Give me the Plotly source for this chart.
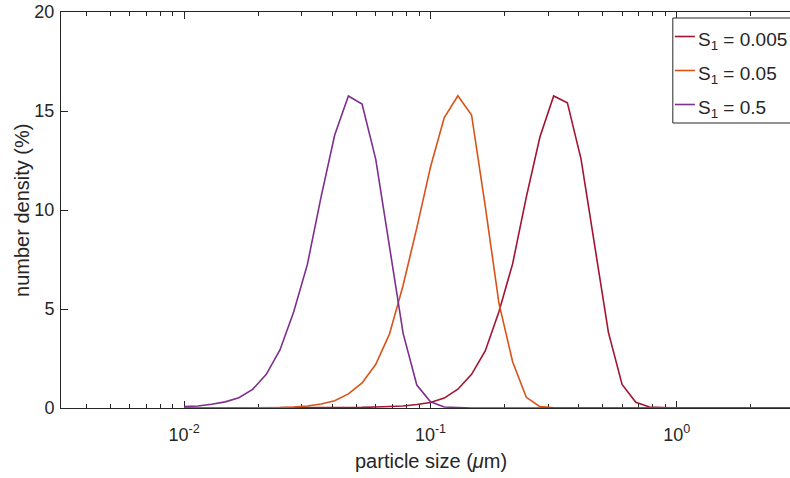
import plotly.graph_objects as go

# sample grid (particle size, um)
particle_size = [
    0.01, 0.011365, 0.012915, 0.014678, 0.016681, 0.018957, 0.021544, 0.024484,
    0.027826, 0.031623, 0.035938, 0.040842, 0.046416, 0.052749, 0.059948, 0.068129,
    0.077426, 0.087992, 0.1, 0.11365, 0.12915, 0.14678, 0.16681, 0.18957,
    0.21544, 0.24484, 0.27826, 0.31623, 0.35938, 0.40842, 0.46416, 0.52749,
    0.59948, 0.68129, 0.77426, 0.87992, 1.0, 1.1365, 1.2915, 1.4678,
    1.6681, 1.8957, 2.1544, 2.4484, 2.7826, 3.1623,
]

density_s0005 = [
    0, 0, 0, 0, 0, 0, 0, 0, 0, 0, 0.01, 0.01, 0.02, 0.03, 0.05, 0.07,
    0.10, 0.18, 0.28, 0.50, 0.95, 1.70, 2.88, 4.86, 7.28, 10.65, 13.70, 15.76,
    15.42, 12.57, 8.15, 3.82, 1.19, 0.29, 0.05, 0.01, 0, 0, 0, 0,
    0, 0, 0, 0, 0, 0,
]

density_s005 = [
    0, 0, 0, 0, 0, 0, 0, 0.02, 0.05, 0.10, 0.20, 0.37, 0.71, 1.27, 2.21, 3.73,
    6.20, 9.10, 12.17, 14.66, 15.77, 14.80, 10.20, 5.30, 2.34, 0.54, 0.07, 0.01,
    0, 0, 0, 0, 0, 0, 0, 0, 0, 0, 0, 0,
    0, 0, 0, 0, 0, 0,
]

density_s05 = [
    0.07, 0.10, 0.19, 0.31, 0.52, 0.94, 1.70, 2.93, 4.85, 7.24, 10.65, 13.79,
    15.76, 15.35, 12.56, 8.15, 3.77, 1.16, 0.31, 0.05, 0.01, 0, 0, 0,
    0, 0, 0, 0, 0, 0, 0, 0, 0, 0, 0, 0, 0, 0, 0, 0,
    0, 0, 0, 0, 0, 0,
]

series_names = ["S<sub>1</sub> = 0.005", "S<sub>1</sub> = 0.05", "S<sub>1</sub> = 0.5"]
series_values = [density_s0005, density_s005, density_s05]
series_colors = ["#A2142F", "#D95319", "#7E2F8E"]

x_tick_vals = [0.01, 0.1, 1]
x_tick_text = ["10<sup>-2</sup>", "10<sup>-1</sup>", "10<sup>0</sup>"]
x_minor_vals = [0.004, 0.005, 0.006, 0.007, 0.008, 0.009,
                0.02, 0.03, 0.04, 0.05, 0.06, 0.07, 0.08, 0.09,
                0.2, 0.3, 0.4, 0.5, 0.6, 0.7, 0.8, 0.9, 2, 3]
y_tick_vals = [0, 5, 10, 15, 20]

FONT = "Liberation Sans, Arial, Helvetica, sans-serif"
INK = "#262626"

# page geometry: figure pinned to the top-left of the page
PL, PT, PR, PB = 61, 12, 799, 408          # plot area in screen pixels
W = PR + 1
H = 478
L = PL
T = PT
B = H - PB
plot_w = PR - PL
plot_h = PB - PT


def px(sx):
    return (sx - PL) / plot_w


def py(sy):
    return (PB - sy) / plot_h


fig = go.Figure()
for name, vals, col in zip(series_names, series_values, series_colors):
    fig.add_trace(go.Scatter(x=particle_size, y=vals, mode="lines", name=name,
                             line=dict(color=col, width=1.6), showlegend=False))

# legend drawn as a boxed key
shapes = [dict(type="rect", xref="paper", yref="paper",
               x0=px(672), x1=px(830), y0=py(123), y1=py(18),
               line=dict(color=INK, width=1), fillcolor="white", layer="above")]
annotations = []
for i, (name, col) in enumerate(zip(series_names, series_colors)):
    ly = 36.5 + 34 * i
    shapes.append(dict(type="line", xref="paper", yref="paper",
                       x0=px(674), x1=px(694), y0=py(ly), y1=py(ly),
                       line=dict(color=col, width=1.6), layer="above"))
    annotations.append(dict(text=name, xref="paper", yref="paper",
                            x=px(695), y=py(ly + 4), xanchor="left", yanchor="middle",
                            showarrow=False,
                            font=dict(size=19, color=INK, family=FONT)))

annotations += [
    dict(text="particle size (<i>μ</i>m)", xref="paper", yref="paper",
         x=px(430), y=py(461), xanchor="center", yanchor="middle", showarrow=False,
         font=dict(size=20, color=INK, family=FONT)),
    dict(text="number density (%)", xref="paper", yref="paper",
         x=px(22), y=0.5, textangle=-90, xanchor="center", yanchor="middle",
         showarrow=False, font=dict(size=20, color=INK, family=FONT)),
]

fig.update_layout(
    width=W, height=H,
    margin=dict(l=L, r=0, t=T, b=B, pad=0),
    paper_bgcolor="white", plot_bgcolor="white",
    font=dict(family=FONT, color=INK, size=17),
    showlegend=False,
    xaxis=dict(type="log", range=[-2.5, 0.5],
               tickmode="array", tickvals=x_tick_vals, ticktext=x_tick_text,
               ticks="inside", ticklen=7, tickwidth=1, tickcolor=INK,
               showline=True, linecolor=INK, linewidth=1, mirror="ticks",
               showgrid=False, zeroline=False, layer="below traces",
               tickfont=dict(size=18, color=INK), ticklabelstandoff=10,
               minor=dict(tickmode="array", tickvals=x_minor_vals,
                          ticks="inside", ticklen=4, tickwidth=1, tickcolor=INK,
                          showgrid=False)),
    yaxis=dict(range=[0, 20], tickmode="array", tickvals=y_tick_vals,
               ticks="inside", ticklen=7, tickwidth=1, tickcolor=INK,
               showline=True, linecolor=INK, linewidth=1, mirror=False,
               showgrid=False, zeroline=False, layer="below traces",
               tickfont=dict(size=18, color=INK), ticklabelstandoff=2),
    shapes=shapes,
    annotations=annotations,
)

fig.write_html(
    "out.html",
    config={"displayModeBar": False},
    post_script="document.body.style.margin='0';document.body.style.overflow='hidden';",
)
